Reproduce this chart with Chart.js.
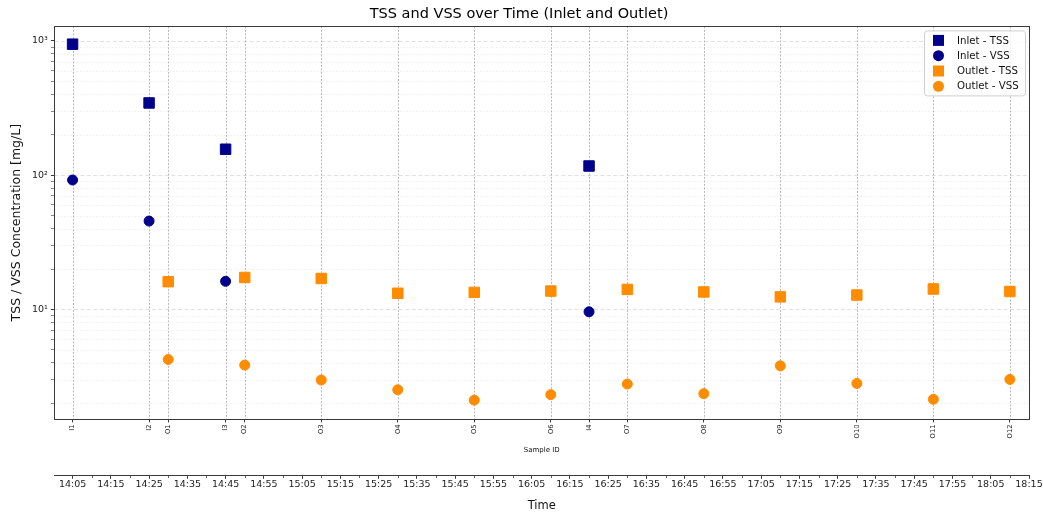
<!DOCTYPE html>
<html>
<head>
<meta charset="utf-8">
<script src="https://cdn.jsdelivr.net/npm/chart.js@4.4.1/dist/chart.umd.min.js"></script>
<style>
  body { margin: 0; background: #fff; }
  canvas { display: block; }
</style>
</head>
<body>
<canvas id="chart" width="1043" height="513"></canvas>
<script>
// sample ids and times (all samples, in time order)
const sampleIds = ['I1', 'I2', 'O1', 'I3', 'O2', 'O3', 'O4', 'O5', 'O6', 'I4', 'O7', 'O8', 'O9', 'O10', 'O11', 'O12'];
const sampleTimes = ['14:05', '14:25', '14:30', '14:45', '14:50', '15:10', '15:30', '15:50', '16:10', '16:20', '16:30', '16:50', '17:10', '17:30', '17:50', '18:10'];

// inlet
const inletTimes = ['14:05', '14:25', '14:45', '16:20'];
const inletTSS = [945, 345, 156, 117];
const inletVSS = [92, 45.5, 16.2, 9.6];

// outlet
const outletTimes = ['14:30', '14:50', '15:10', '15:30', '15:50', '16:10', '16:30', '16:50', '17:10', '17:30', '17:50', '18:10'];
const outletTSS = [16.1, 17.3, 17.0, 13.2, 13.4, 13.7, 14.1, 13.5, 12.4, 12.8, 14.2, 13.6];
const outletVSS = [4.24, 3.85, 2.98, 2.52, 2.11, 2.32, 2.78, 2.36, 3.80, 2.81, 2.14, 3.01];

// time axis labels
const timeTickLabels = ['14:05', '14:15', '14:25', '14:35', '14:45', '14:55', '15:05', '15:15', '15:25', '15:35', '15:45', '15:55',
  '16:05', '16:15', '16:25', '16:35', '16:45', '16:55', '17:05', '17:15', '17:25', '17:35', '17:45', '17:55', '18:05', '18:15'];

const INLET = '#00008b';
const OUTLET = '#ff8c00';
const FRAME = '#3a3a3a';

Chart.defaults.font.family = '"DejaVu Sans", sans-serif';

function toMin(t) {
  const [h, m] = t.split(':').map(Number);
  return h * 60 + m;
}
function pts(times, vals) {
  return times.map((t, i) => ({ x: toMin(t), y: vals[i] }));
}
function isDecade(v) {
  const l = Math.log10(v);
  return Math.abs(l - Math.round(l)) < 1e-9;
}
const sup = ['\u2070', '\u00b9', '\u00b2', '\u00b3'];

const xMin = toMin('14:05') - 4.75;
const xMax = toMin('18:15');

const mplPlugin = {
  id: 'mpl',
  beforeDatasetsDraw(chart) {
    const { ctx, chartArea: a, scales: { x, y } } = chart;
    ctx.save();
    ctx.lineWidth = 0.8;
    y.ticks.forEach(t => {
      const py = Math.round(y.getPixelForValue(t.value)) + 0.5;
      const major = isDecade(t.value);
      ctx.strokeStyle = major ? 'rgba(170,170,170,0.45)' : 'rgba(170,170,170,0.3)';
      ctx.setLineDash(major ? [4, 2.5] : [1.2, 2]);
      ctx.beginPath();
      ctx.moveTo(a.left, py);
      ctx.lineTo(a.right, py);
      ctx.stroke();
    });
    ctx.strokeStyle = 'rgba(140,140,140,0.75)';
    ctx.setLineDash([2, 1.5]);
    x.ticks.forEach(t => {
      const px = Math.round(x.getPixelForValue(t.value)) + 0.5;
      ctx.beginPath();
      ctx.moveTo(px, a.top);
      ctx.lineTo(px, a.bottom);
      ctx.stroke();
    });
    ctx.restore();
  },
  afterDatasetsDraw(chart) {
    const { ctx, chartArea: a } = chart;
    ctx.save();
    ctx.strokeStyle = FRAME;
    ctx.lineWidth = 1;
    ctx.strokeRect(Math.round(a.left) + 0.5, Math.round(a.top) + 0.5,
      Math.round(a.right - a.left), Math.round(a.bottom - a.top));
    ctx.restore();
  },
  afterDraw(chart) {
    const { ctx, chartArea: a, scales: { x2 } } = chart;
    ctx.save();
    // minor ticks on the time axis
    ctx.strokeStyle = FRAME;
    ctx.lineWidth = 0.8;
    const ty = Math.round(x2.top) + 0.5;
    timeTickLabels.slice(0, -1).forEach(l => {
      const px = Math.round(x2.getPixelForValue(toMin(l) + 5)) + 0.5;
      ctx.beginPath();
      ctx.moveTo(px, ty);
      ctx.lineTo(px, ty + 2.5);
      ctx.stroke();
    });
    // legend
    const bx = a.right - 105, by = a.top + 4, bw = 101, bh = 65;
    ctx.fillStyle = 'rgba(255,255,255,0.8)';
    ctx.strokeStyle = '#d0d0d0';
    ctx.lineWidth = 1;
    ctx.beginPath();
    ctx.roundRect(bx + 0.5, by + 0.5, bw, bh, 3);
    ctx.fill();
    ctx.stroke();
    ctx.font = '10.2px "DejaVu Sans"';
    ctx.textBaseline = 'middle';
    chart.data.datasets.forEach((ds, i) => {
      const cy = by + 10 + i * 15.3;
      const cx = bx + 14.5;
      ctx.fillStyle = ds.backgroundColor;
      if (ds.pointStyle === 'rect') {
        ctx.fillRect(cx - 5.5, cy - 5.5, 11, 11);
      } else {
        ctx.beginPath();
        ctx.arc(cx, cy, 5.5, 0, Math.PI * 2);
        ctx.fill();
      }
      ctx.fillStyle = '#111';
      ctx.fillText(ds.label, bx + 33, cy + 0.5);
    });
    ctx.restore();
  }
};

new Chart(document.getElementById('chart'), {
  type: 'scatter',
  data: {
    datasets: [
      { label: 'Inlet - TSS', data: pts(inletTimes, inletTSS), pointStyle: 'rect', pointRadius: 7.4,
        backgroundColor: INLET, borderColor: INLET, borderWidth: 1 },
      { label: 'Inlet - VSS', data: pts(inletTimes, inletVSS), pointStyle: 'circle', pointRadius: 5,
        backgroundColor: INLET, borderColor: INLET, borderWidth: 1 },
      { label: 'Outlet - TSS', data: pts(outletTimes, outletTSS), pointStyle: 'rect', pointRadius: 7.4,
        backgroundColor: OUTLET, borderColor: OUTLET, borderWidth: 1 },
      { label: 'Outlet - VSS', data: pts(outletTimes, outletVSS), pointStyle: 'circle', pointRadius: 5,
        backgroundColor: OUTLET, borderColor: OUTLET, borderWidth: 1 }
    ]
  },
  options: {
    responsive: false,
    animation: false,
    devicePixelRatio: 1,
    layout: { padding: { left: 9, right: 14, top: 0, bottom: 0 } },
    plugins: {
      legend: { display: false },
      tooltip: { enabled: false },
      title: {
        display: true,
        text: 'TSS and VSS over Time (Inlet and Outlet)',
        color: '#000',
        font: { size: 14.5, weight: 'normal' },
        padding: { top: 6, bottom: 3 }
      }
    },
    scales: {
      x: {
        type: 'linear',
        position: 'bottom',
        weight: 0,
        min: xMin,
        max: xMax,
        afterBuildTicks: s => { s.ticks = sampleTimes.map(t => ({ value: toMin(t) })); },
        ticks: {
          autoSkip: false,
          minRotation: 90,
          maxRotation: 90,
          padding: 2,
          color: '#222',
          font: { size: 6.8 },
          callback: (v, i) => sampleIds[i]
        },
        grid: { drawOnChartArea: false, drawTicks: true, tickLength: 3.5, tickColor: FRAME },
        border: { display: false },
        title: { display: true, text: 'Sample ID', color: '#111', font: { size: 7 }, padding: { top: 6, bottom: 20.5 } }
      },
      x2: {
        type: 'linear',
        position: 'bottom',
        weight: 1,
        min: xMin,
        max: xMax,
        afterBuildTicks: s => { s.ticks = timeTickLabels.map(t => ({ value: toMin(t) })); },
        ticks: {
          autoSkip: false,
          maxRotation: 0,
          padding: 0,
          color: '#222',
          font: { size: 9.5 },
          callback: (v, i) => timeTickLabels[i]
        },
        grid: { drawOnChartArea: false, drawTicks: true, tickLength: 3.5, tickColor: FRAME },
        border: { display: true, color: FRAME, width: 1 },
        title: { display: true, text: 'Time', color: '#111', font: { size: 11.5 }, padding: { top: 9, bottom: 0 } }
      },
      y: {
        type: 'logarithmic',
        min: 1.53,
        max: 1282,
        afterBuildTicks: s => {
          const ticks = [];
          for (let d = 1; d <= 1000; d *= 10) {
            for (let m = 1; m < 10; m++) {
              const v = m * d;
              if (v >= s.min && v <= s.max) ticks.push({ value: v, major: m === 1 });
            }
          }
          s.ticks = ticks;
        },
        ticks: {
          autoSkip: false,
          padding: 3,
          color: '#222',
          font: { size: 9.5 },
          callback: v => isDecade(v) ? '10' + sup[Math.round(Math.log10(v))] : ''
        },
        grid: {
          drawOnChartArea: false, drawTicks: true, tickLength: 3.5, tickColor: FRAME,
          tickWidth: c => (c.tick && isDecade(c.tick.value)) ? 1 : 0.6
        },
        border: { display: false },
        title: { display: true, text: 'TSS / VSS Concentration [mg/L]', color: '#111', font: { size: 12.5 }, padding: { top: 0, bottom: 5 } }
      }
    }
  },
  plugins: [mplPlugin]
});
</script>
</body>
</html>
